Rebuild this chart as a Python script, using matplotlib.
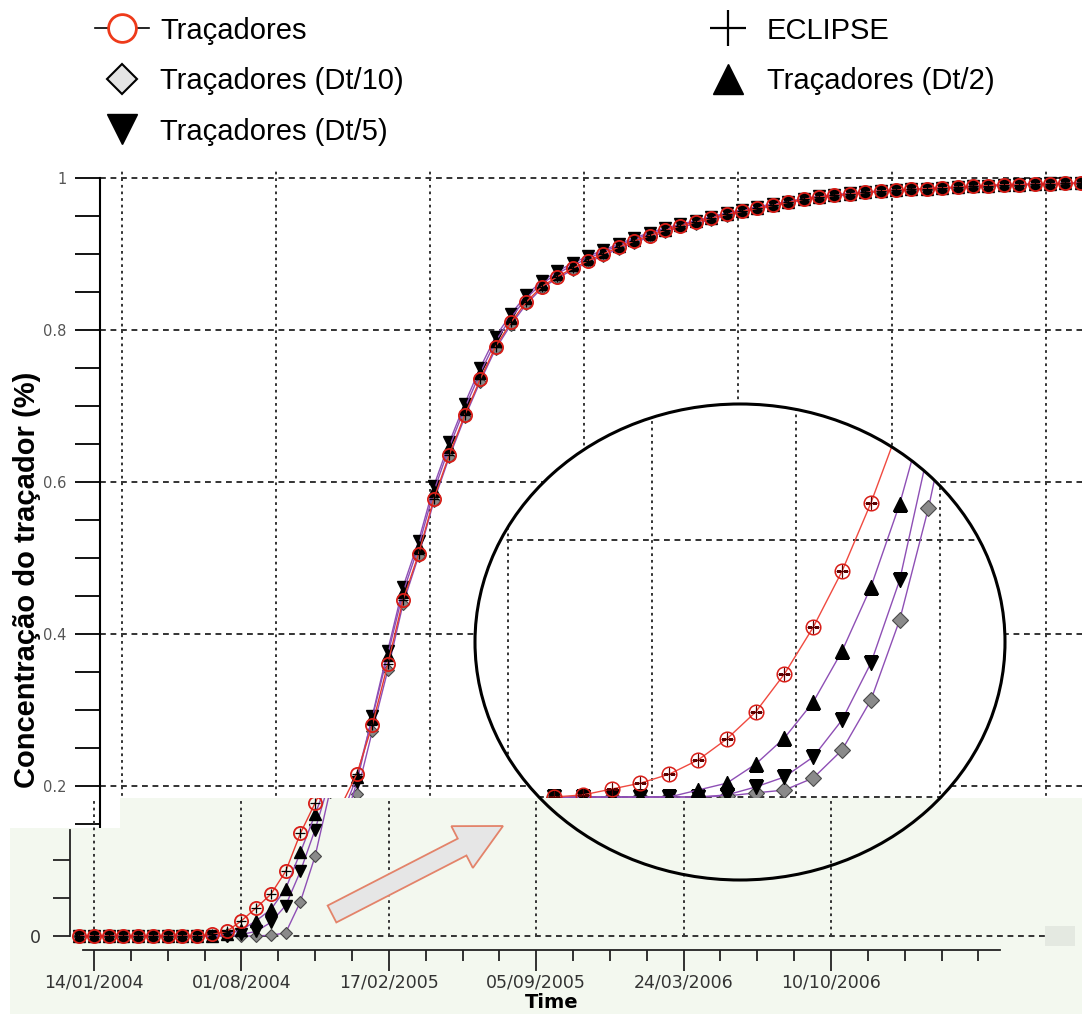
import numpy as np
import matplotlib
matplotlib.use('Agg')
import matplotlib.pyplot as plt
import matplotlib.dates as mdates
from matplotlib.lines import Line2D
from matplotlib.patches import Ellipse, Polygon, FancyArrow, Rectangle
from matplotlib.ticker import MultipleLocator
from datetime import datetime

# ---------------------------------------------------------------- data
start_date = datetime(2004, 1, 14)
days = list(range(-20, 1261, 20))          # output times (days after 14/01/2004)

tracadores = [
    0, 0, 0, 0, 0, 0, 0, 0, 0, 0.002,
    0.006, 0.020, 0.037, 0.055, 0.085, 0.135, 0.175, 0.216, 0.280, 0.360,
    0.445, 0.505, 0.578, 0.636, 0.688, 0.735, 0.778, 0.810, 0.837, 0.857,
    0.870, 0.881, 0.891, 0.900, 0.909, 0.917, 0.924, 0.931, 0.937, 0.942,
    0.947, 0.952, 0.956, 0.960, 0.964, 0.968, 0.972, 0.975, 0.977, 0.979,
    0.981, 0.983, 0.984, 0.985, 0.986, 0.987, 0.988, 0.989, 0.990, 0.991,
    0.991, 0.992, 0.992, 0.993, 0.993]
eclipse = [
    0, 0, 0, 0, 0, 0, 0, 0, 0, 0.002,
    0.006, 0.020, 0.037, 0.055, 0.085, 0.135, 0.175, 0.216, 0.280, 0.360,
    0.445, 0.505, 0.578, 0.636, 0.688, 0.735, 0.778, 0.810, 0.837, 0.857,
    0.870, 0.881, 0.891, 0.900, 0.909, 0.917, 0.924, 0.931, 0.937, 0.942,
    0.947, 0.952, 0.956, 0.960, 0.964, 0.968, 0.972, 0.975, 0.977, 0.979,
    0.981, 0.983, 0.984, 0.985, 0.986, 0.987, 0.988, 0.989, 0.990, 0.991,
    0.991, 0.992, 0.992, 0.993, 0.993]
dt2 = [
    0, 0, 0, 0, 0, 0, 0, 0, 0, 0,
    0.002, 0.008, 0.020, 0.035, 0.062, 0.110, 0.160, 0.212, 0.290, 0.372,
    0.455, 0.515, 0.588, 0.646, 0.697, 0.743, 0.785, 0.816, 0.842, 0.861,
    0.874, 0.885, 0.894, 0.903, 0.911, 0.919, 0.926, 0.932, 0.938, 0.943,
    0.948, 0.953, 0.957, 0.961, 0.965, 0.969, 0.972, 0.975, 0.977, 0.979,
    0.981, 0.983, 0.984, 0.985, 0.986, 0.987, 0.988, 0.989, 0.990, 0.991,
    0.991, 0.992, 0.992, 0.993, 0.993]
dt5 = [
    0, 0, 0, 0, 0, 0, 0, 0, 0, 0,
    0, 0.002, 0.006, 0.018, 0.040, 0.085, 0.140, 0.205, 0.292, 0.378,
    0.462, 0.522, 0.595, 0.652, 0.703, 0.750, 0.791, 0.821, 0.846, 0.864,
    0.877, 0.888, 0.897, 0.905, 0.913, 0.921, 0.928, 0.934, 0.939, 0.944,
    0.949, 0.954, 0.958, 0.962, 0.966, 0.969, 0.973, 0.976, 0.978, 0.980,
    0.982, 0.983, 0.984, 0.985, 0.986, 0.987, 0.988, 0.989, 0.990, 0.991,
    0.992, 0.992, 0.993, 0.993, 0.994]
dt10 = [
    0, 0, 0, 0, 0, 0, 0, 0, 0, 0,
    0, 0, 0, 0.001, 0.004, 0.045, 0.105, 0.190, 0.272, 0.352,
    0.440, 0.502, 0.575, 0.633, 0.685, 0.732, 0.775, 0.807, 0.834, 0.855,
    0.868, 0.879, 0.889, 0.898, 0.907, 0.915, 0.922, 0.929, 0.935, 0.940,
    0.945, 0.950, 0.955, 0.959, 0.963, 0.967, 0.971, 0.974, 0.976, 0.978,
    0.980, 0.982, 0.983, 0.984, 0.985, 0.986, 0.987, 0.988, 0.989, 0.990,
    0.991, 0.991, 0.992, 0.992, 0.993]

# zoomed view (inset): start of the tracer breakthrough
inset_days = [158, 163, 168, 173, 178, 183, 188, 193, 198, 203, 208, 213, 218, 223, 228]
inset_tracadores = [0, 0.00008, 0.00031, 0.00054, 0.00089, 0.00144, 0.00226, 0.00331,
                    0.00479, 0.00661, 0.00879, 0.01144, 0.01447, 0.01817, 0.0225]
inset_eclipse = [0, 0.00008, 0.00031, 0.00054, 0.00089, 0.00144, 0.00226, 0.00331,
                 0.00479, 0.00661, 0.00879, 0.01144, 0.01447, 0.01817, 0.0225]
inset_dt2 = [0, 0, 0, 0, 0, 0.00027, 0.00054, 0.00128, 0.00230, 0.00370, 0.00568,
             0.00817, 0.01140, 0.01545, 0.0200]
inset_dt5 = [0, 0, 0, 0, 0, 0, 0.00008, 0.00039, 0.00078, 0.00156, 0.00300,
             0.00521, 0.00844, 0.01350, 0.0180]
inset_dt10 = [0, 0, 0, 0, 0, 0, 0.00004, 0.00016, 0.00027, 0.00074, 0.00183,
              0.00377, 0.00689, 0.01125, 0.0165]
inset_grid_days = [150, 175, 200, 225]
inset_grid_values = [0, 0.01]

x_tick_labels = ['14/01/2004', '01/08/2004', '17/02/2005', '05/09/2005',
                 '24/03/2006', '10/10/2006']
y_tick_values = [0.2, 0.4, 0.6, 0.8, 1.0]
y_tick_labels = ['0.2', '0.4', '0.6', '0.8', '1']
bottom_y_ticks = [0, 0.05, 0.1]
bottom_y_labels = ['0', '', '']

legend_labels = ['Traçadores', 'Traçadores (Dt/10)', 'Traçadores (Dt/5)',
                 'ECLIPSE', 'Traçadores (Dt/2)']

# ---------------------------------------------------------------- figure
W, H = 1082, 1014
fig = plt.figure(figsize=(W / 100, H / 100), dpi=100)
fig.patch.set_facecolor('white')


def add_px_axes(x0, y0, x1, y1, z):
    a = fig.add_axes([x0 / W, 1 - y1 / H, (x1 - x0) / W, (y1 - y0) / H])
    a.set_zorder(z)
    return a


base = mdates.date2num(start_date)
t = np.array([base + d for d in days])
tick_pos = [mdates.date2num(datetime.strptime(s, '%d/%m/%Y')) for s in x_tick_labels]

RED = '#d81e18'
REDLINE = '#e83a30'
PURPLE = '#8e4fb5'


def series_styles(scale):
    return [
        (dt10, dict(marker='D', ms=6.2 * scale, mfc='#8a8a8a', mec='#454545', mew=0.8,
                    color=PURPLE, lw=1.0)),
        (dt5, dict(marker='v', ms=8.5 * scale, mfc='black', mec='black', color=PURPLE, lw=1.0)),
        (dt2, dict(marker='^', ms=8.5 * scale, mfc='black', mec='black', color=PURPLE, lw=1.0)),
        (tracadores, dict(marker='o', ms=9.5 * scale, mfc='none', mec=RED, mew=1.3,
                          color=REDLINE, lw=1.0)),
        (eclipse, dict(marker='+', ms=7.5 * scale, mec='black', mew=0.9, ls='none')),
    ]


GRID = '#333333'
HDASH = (0, (3, 2.4))
VDOT = (0, (1.4, 2.0))

# ---------------- main (upper) chart
ax = add_px_axes(100, 170, W, H, 1)
top_px0, top_k = 110.5, 0.77            # px = top_px0 + top_k * day
ax.set_xlim(base + (100 - top_px0) / top_k, base + (W - top_px0) / top_k)
ax.set_ylim(1 - (H - 178) / 760, 1 + 8 / 760)
for vals, st in series_styles(1.0):
    ax.plot(t, vals, **st)
for s in ['top', 'right', 'bottom']:
    ax.spines[s].set_visible(False)
ax.spines['left'].set_bounds(0.14, 1.0)
ax.spines['left'].set_linewidth(1.5)
ax.set_yticks(y_tick_values, y_tick_labels)
ax.yaxis.set_minor_locator(MultipleLocator(0.05))
ax.tick_params(axis='y', which='both', length=18, width=1.3, direction='out',
               labelsize=10.5, labelcolor='#555555', pad=6)
top_grid = [base + 15 + 200 * k for k in range(7)]
ax.set_xticks(top_grid)
ax.tick_params(axis='x', length=0, labelbottom=False)
ax.grid(axis='x', linestyle=VDOT, color=GRID, lw=1.4)
ax.grid(axis='y', which='major', linestyle=HDASH, color=GRID, lw=1.4)

# ---------------- inset (zoom circle)
ax_in = add_px_axes(475, 404, 1005, 880, 2)
ax_in.set_axis_off()
ipx0, ik = 508, 5.76          # px = ipx0 + ik*(day-150)
ipy0, ikv = 797, 25700        # py = ipy0 - ikv*value
ax_in.set_xlim(150 + (475 - ipx0) / ik, 150 + (1005 - ipx0) / ik)
ax_in.set_ylim((ipy0 - 880) / ikv, (ipy0 - 404) / ikv)
ell_fill = Ellipse((0.5, 0.5), 1, 1, transform=ax_in.transAxes, fc='white', ec='none', zorder=0)
ax_in.add_patch(ell_fill)
for gx in inset_grid_days:
    ln = ax_in.axvline(gx, linestyle=VDOT, color=GRID, lw=1.4, zorder=1)
    ln.set_clip_path(ell_fill)
for gy in inset_grid_values:
    ln = ax_in.axhline(gy, linestyle=HDASH, color=GRID, lw=1.4, zorder=1)
    ln.set_clip_path(ell_fill)
inset_series = [
    (inset_dt10, dict(marker='D', ms=8, mfc='#8a8a8a', mec='#4a4a4a', mew=0.8, color=PURPLE, lw=1.0)),
    (inset_dt5, dict(marker='v', ms=10.5, mfc='black', mec='black', color=PURPLE, lw=1.0)),
    (inset_dt2, dict(marker='^', ms=10.5, mfc='black', mec='black', color=PURPLE, lw=1.0)),
    (inset_tracadores, dict(marker='o', ms=10.5, mfc='none', mec=RED, mew=1.1, color='#f04a40', lw=1.0)),
    (inset_eclipse, dict(marker='+', ms=8.5, mec='#5a0000', mew=0.9, ls='none')),
]
for vals, st in inset_series:
    ln, = ax_in.plot(inset_days, vals, zorder=3, **st)
    ln.set_clip_path(ell_fill)

# ---------------- green lower panel background
ov1 = add_px_axes(0, 0, W, H, 3)
ov1.set_xlim(0, W)
ov1.set_ylim(H, 0)
ov1.set_axis_off()
ov1.add_patch(Polygon([(10, 828), (120, 828), (120, 798), (W, 798), (W, H), (10, H)],
                      closed=True, fc='#f3f8ef', ec='none'))
ov1.add_patch(Rectangle((1045, 926), 30, 20, fc='#e4e9e1', ec='none'))

# ---------------- lower chart (start of the curve)
axb = add_px_axes(70, 798, W, 950, 4)
axb.patch.set_visible(False)
b_px0, b_k = 94, 0.737        # px = b_px0 + b_k * day
axb.set_xlim(base + (70 - b_px0) / b_k, base + (W - b_px0) / b_k)
axb.set_ylim((936 - 950) / 760, (936 - 798) / 760)
axb.vlines(tick_pos, 0, (936 - 798) / 760, linestyles=VDOT, colors=GRID, lw=1.4, zorder=1)
axb.hlines(0, base, base + (1045 - b_px0) / b_k, linestyles=HDASH, colors=GRID, lw=1.4,
           zorder=1, clip_on=False)
for vals, st in series_styles(1.0):
    axb.plot(t, vals, zorder=2, **st)
for s in ['top', 'right']:
    axb.spines[s].set_visible(False)
axb.spines['left'].set_bounds(0, (936 - 830) / 760)
axb.spines['bottom'].set_bounds(base + (83 - b_px0) / b_k, base + (1000 - b_px0) / b_k)
for s in ['left', 'bottom']:
    axb.spines[s].set_linewidth(1.3)
    axb.spines[s].set_color('#222222')
axb.set_xticks(tick_pos, x_tick_labels)
axb.set_xticks([base + d for d in range(50, 1201, 50)], minor=True)
axb.tick_params(axis='x', which='major', length=15, width=1.3, pad=2, labelsize=12.5,
                labelcolor='#333333', color='#222222')
axb.tick_params(axis='x', which='minor', length=8, width=1.3, color='#222222')
axb.set_yticks(bottom_y_ticks, bottom_y_labels)
axb.tick_params(axis='y', length=12, width=1.3, pad=9, labelsize=12.5,
                labelcolor='#333333', color='#222222')

# ---------------- ellipse outline and arrow
ov2 = add_px_axes(0, 0, W, H, 5)
ov2.set_xlim(0, W)
ov2.set_ylim(H, 0)
ov2.set_axis_off()
ov2.add_patch(Ellipse((740, 642), 530, 476, fill=False, ec='black', lw=2.2))
ov2.add_patch(FancyArrow(332, 914, 171, -88, width=19, head_width=47, head_length=46,
                         length_includes_head=True, fc='#e6e6e6', ec='#e3836a', lw=1.3))

# ---------------- texts and legend
fig.text(27 / W, 1 - 580 / H, 'Concentração do traçador (%)', rotation=90, ha='center',
         va='center', fontsize=21, fontweight='bold', family='Liberation Sans', zorder=10)
fig.text(552 / W, 1 - 1012 / H, 'Time', ha='center', va='bottom', fontsize=14,
         fontweight='bold', family='DejaVu Sans', zorder=10)

handles = [
    Line2D([], [], color='black', lw=1.2, marker='o', ms=20, mfc='white', mec='#ee3a1a', mew=2),
    Line2D([], [], ls='none', marker='D', ms=15, mfc='#e4e4e4', mec='black', mew=1.5),
    Line2D([], [], ls='none', marker='v', ms=22, color='black'),
    Line2D([], [], ls='none', marker='+', ms=26, mew=1.6, color='black'),
    Line2D([], [], ls='none', marker='^', ms=22, color='black'),
]
fig.legend(handles, legend_labels, ncol=2, loc='upper left',
           bbox_to_anchor=(80 / W, 1 - 2 / H), frameon=False, borderpad=0,
           prop={'family': 'Liberation Sans', 'size': 21}, handlelength=1.85,
           handletextpad=0.4, labelspacing=0.77, columnspacing=10.2)

fig.savefig('out.png', dpi=100)
